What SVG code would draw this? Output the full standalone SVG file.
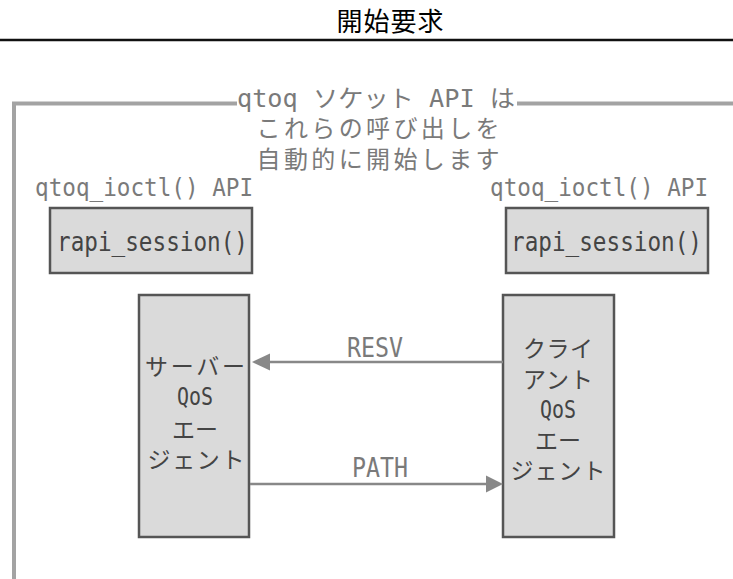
<svg xmlns="http://www.w3.org/2000/svg" width="733" height="579" viewBox="0 0 733 579">
<defs>
<style>
.cjk{font-family:"Noto Sans CJK JP","DejaVu Sans",sans-serif;}
.mono{font-family:"DejaVu Sans Mono","Noto Sans CJK JP",monospace;}
.gray{fill:#7a7a7a;}
.dark{fill:#444;}
.box{fill:#dadada;stroke:#555;stroke-width:2.5;}
.frame{fill:none;stroke:#a3a3a3;stroke-width:4;}
.conn{stroke:#888;stroke-width:2.5;fill:none;}
.head{fill:#888;}
</style>
</defs>
<rect width="733" height="579" fill="#fff"/>
<g id="title">
<text class="cjk" x="390" y="31" font-size="26" fill="#000" text-anchor="middle" textLength="107" lengthAdjust="spacing">開始要求</text>
<line x1="0" y1="40" x2="733" y2="40" stroke="#111" stroke-width="2.5"/>
</g>
<g id="socket-frame">
<polyline class="frame" points="14,579 14,103.5 237,103.5"/>
<line class="frame" x1="517" y1="103.5" x2="733" y2="103.5"/>
<text class="mono gray" x="376" y="107" font-size="24" text-anchor="middle" textLength="278" lengthAdjust="spacingAndGlyphs">qtoq ソケット API は</text>
<text class="cjk gray" x="378" y="137" font-size="24" text-anchor="middle" textLength="243" lengthAdjust="spacing">これらの呼び出しを</text>
<text class="cjk gray" x="378" y="168" font-size="24" text-anchor="middle" textLength="243" lengthAdjust="spacing">自動的に開始します</text>
</g>
<g id="server-api">
<text class="mono gray" x="35" y="196" font-size="24" textLength="218" lengthAdjust="spacingAndGlyphs">qtoq_ioctl() API</text>
</g>
<g id="client-api">
<text class="mono gray" x="490" y="196" font-size="24" textLength="218" lengthAdjust="spacingAndGlyphs">qtoq_ioctl() API</text>
</g>
<g id="server-rapi">
<rect class="box" x="50" y="208" width="202" height="65"/>
<text class="mono dark" x="57" y="251" font-size="26" textLength="191" lengthAdjust="spacingAndGlyphs">rapi_session()</text>
</g>
<g id="client-rapi">
<rect class="box" x="506" y="208" width="202" height="65"/>
<text class="mono dark" x="511" y="251" font-size="26" textLength="191" lengthAdjust="spacingAndGlyphs">rapi_session()</text>
</g>
<g id="server-agent">
<rect class="box" x="139" y="295" width="110" height="242"/>
<g text-anchor="middle" class="dark">
<text class="cjk" x="195" y="375" font-size="23" textLength="100" lengthAdjust="spacing">サーバー</text>
<text class="mono" x="195" y="405" font-size="24" textLength="36" lengthAdjust="spacingAndGlyphs">QoS</text>
<text class="cjk" x="195" y="438" font-size="23">エー</text>
<text class="cjk" x="196" y="468" font-size="23" textLength="97" lengthAdjust="spacing">ジェント</text>
</g>
</g>
<g id="client-agent">
<rect class="box" x="503" y="295" width="111" height="242"/>
<g text-anchor="middle" class="dark">
<text class="cjk" x="558" y="357" font-size="23" textLength="70" lengthAdjust="spacing">クライ</text>
<text class="cjk" x="558" y="388" font-size="23" textLength="70" lengthAdjust="spacing">アント</text>
<text class="mono" x="558" y="418" font-size="24" textLength="36" lengthAdjust="spacingAndGlyphs">QoS</text>
<text class="cjk" x="558" y="449" font-size="23">エー</text>
<text class="cjk" x="558" y="479" font-size="23" textLength="95" lengthAdjust="spacing">ジェント</text>
</g>
</g>
<g id="connectors">
<g id="resv">
<line class="conn" x1="503" y1="362" x2="268" y2="362"/>
<polygon class="head" points="252,362 270,353.5 270,370.5"/>
<text class="mono gray" x="375" y="357" font-size="26" text-anchor="middle" textLength="56" lengthAdjust="spacingAndGlyphs">RESV</text>
</g>
<g id="path">
<line class="conn" x1="250" y1="484" x2="488" y2="484"/>
<polygon class="head" points="503,484 486,475.5 486,492.5"/>
<text class="mono gray" x="380" y="477" font-size="26" text-anchor="middle" textLength="56" lengthAdjust="spacingAndGlyphs">PATH</text>
</g>
</g>
</svg>
